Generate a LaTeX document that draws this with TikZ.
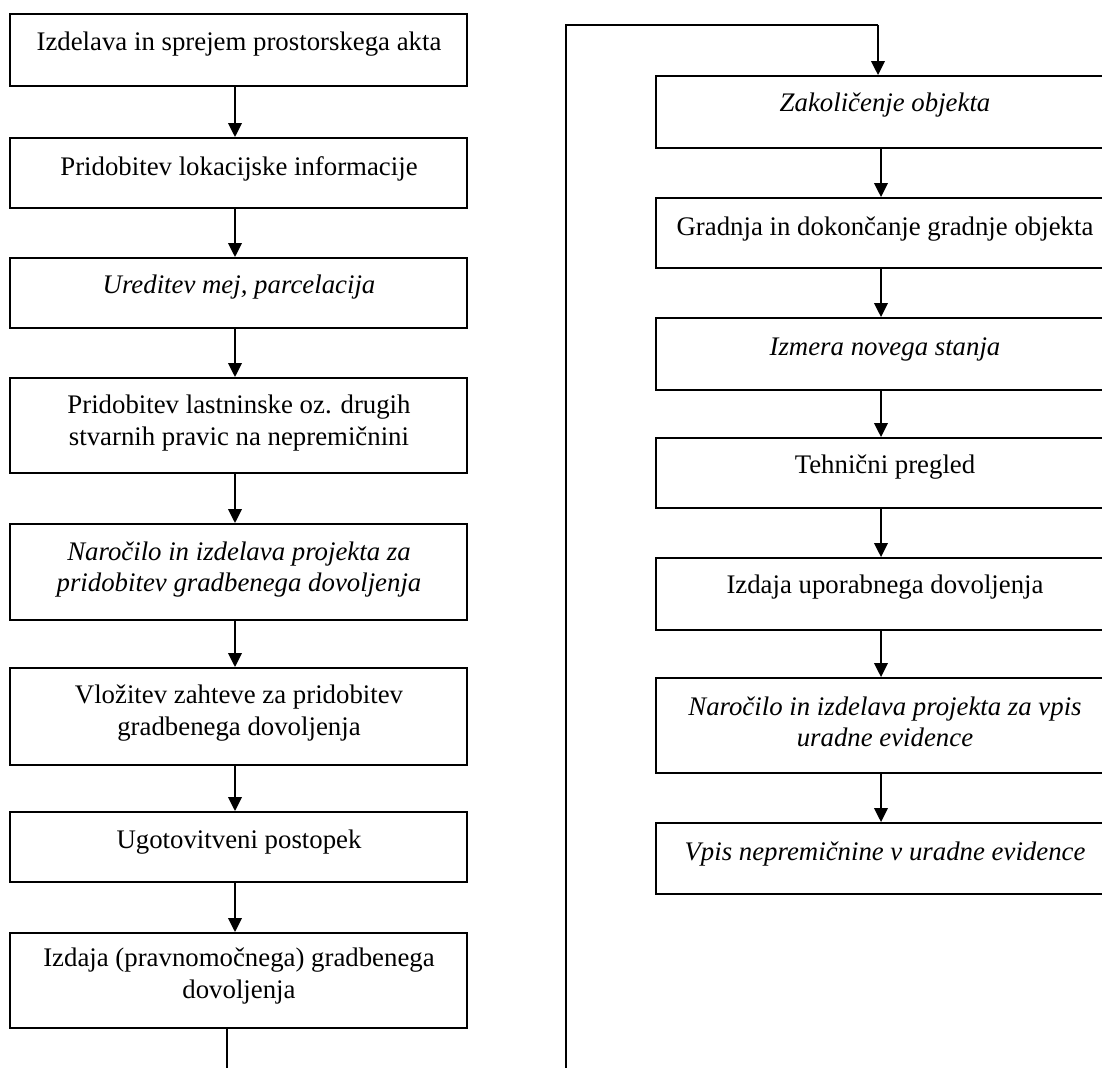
\documentclass[tikz,border=0pt]{standalone}
\usepackage{fontspec}
\setmainfont{Liberation Serif}
\usetikzlibrary{arrows.meta}
\tikzset{
  box/.style={draw, line width=0.95pt, rectangle, inner sep=0pt},
  lbox/.style={box, minimum width=228.5pt},
  rbox/.style={box, minimum width=225pt},
  txt/.style={align=center, inner sep=0pt, font=\fontsize{13.4pt}{15.75pt}\selectfont},
  itxt/.style={txt, font=\fontsize{13.4pt}{15.75pt}\selectfont\itshape},
  arr/.style={line width=1pt, -{Triangle[width=6.8pt,length=7pt]}},
  loopline/.style={line width=0.8pt},
}
\begin{document}
\begin{tikzpicture}[x=0.5pt, y=-0.5pt]
\useasboundingbox (0,0) rectangle (1102,1068);
% left column boxes
\node[lbox, minimum height=36pt] (l1) at (238.5,50) {};
\node[lbox, minimum height=35pt] (l2) at (238.5,173) {};
\node[lbox, minimum height=35pt] (l3) at (238.5,293) {};
\node[lbox, minimum height=47.5pt] (l4) at (238.5,425.5) {};
\node[lbox, minimum height=48pt] (l5) at (238.5,572) {};
\node[lbox, minimum height=48.5pt] (l6) at (238.5,716.5) {};
\node[lbox, minimum height=35pt] (l7) at (238.5,847) {};
\node[lbox, minimum height=47.5pt] (l8) at (238.5,980.5) {};
% left texts
\node[txt] (t1) at (239,44) {Izdelava in sprejem prostorskega akta};
\node[txt] (t2) at (239,169) {Pridobitev lokacijske informacije};
\node[itxt] (t3) at (239,287) {Ureditev mej, parcelacija};
\node[txt] (t4) at (239,423) {Pridobitev lastninske oz. drugih\\stvarnih pravic na nepremičnini};
\node[itxt] (t5) at (239,569.5) {Naročilo in izdelava projekta za\\pridobitev gradbenega dovoljenja};
\node[txt] (t6) at (239,713) {Vložitev zahteve za pridobitev\\gradbenega dovoljenja};
\node[txt] (t7) at (239,842) {Ugotovitveni postopek};
\node[txt] (t8) at (239,976) {Izdaja (pravnomočnega) gradbenega\\dovoljenja};
% right column boxes
\node[rbox, minimum height=36pt] (r1) at (881,112) {};
\node[rbox, minimum height=35pt] (r2) at (881,233) {};
\node[rbox, minimum height=36pt] (r3) at (881,354) {};
\node[rbox, minimum height=35pt] (r4) at (881,473) {};
\node[rbox, minimum height=36pt] (r5) at (881,594) {};
\node[rbox, minimum height=47.5pt] (r6) at (881,725.5) {};
\node[rbox, minimum height=35.5pt] (r7) at (881,858.5) {};
% right texts
\node[itxt] (s1) at (885,105) {Zakoličenje objekta};
\node[txt] (s2) at (885,229) {Gradnja in dokončanje gradnje objekta};
\node[itxt] (s3) at (885,349) {Izmera novega stanja};
\node[txt] (s4) at (885,467) {Tehnični pregled};
\node[txt] (s5) at (885,587) {Izdaja uporabnega dovoljenja};
\node[itxt] (s6) at (885,722) {Naročilo in izdelava projekta za vpis\\uradne evidence};
\node[itxt] (s7) at (885,854) {Vpis nepremičnine v uradne evidence};
% left arrows
\coordinate (ax) at (235,0);
\draw[arr] (l1.south -| ax) -- (l2.north -| ax);
\draw[arr] (l2.south -| ax) -- (l3.north -| ax);
\draw[arr] (l3.south -| ax) -- (l4.north -| ax);
\draw[arr] (l4.south -| ax) -- (l5.north -| ax);
\draw[arr] (l5.south -| ax) -- (l6.north -| ax);
\draw[arr] (l6.south -| ax) -- (l7.north -| ax);
\draw[arr] (l7.south -| ax) -- (l8.north -| ax);
% right arrows
\draw[arr] (r1.south) -- (r2.north);
\draw[arr] (r2.south) -- (r3.north);
\draw[arr] (r3.south) -- (r4.north);
\draw[arr] (r4.south) -- (r5.north);
\draw[arr] (r5.south) -- (r6.north);
\draw[arr] (r6.south) -- (r7.north);
% continuation lines
\coordinate (e1) at (227,1068);
\draw[loopline] (l8.south -| e1) -- (e1);
\coordinate (e2) at (566,1068);
\coordinate (c1) at (566,25);
\coordinate (c2) at (878,25);
\draw[loopline] (e2) -- (c1) -- (c2);
\draw[arr] (c2) -- (r1.north -| c2);
\end{tikzpicture}
\end{document}
